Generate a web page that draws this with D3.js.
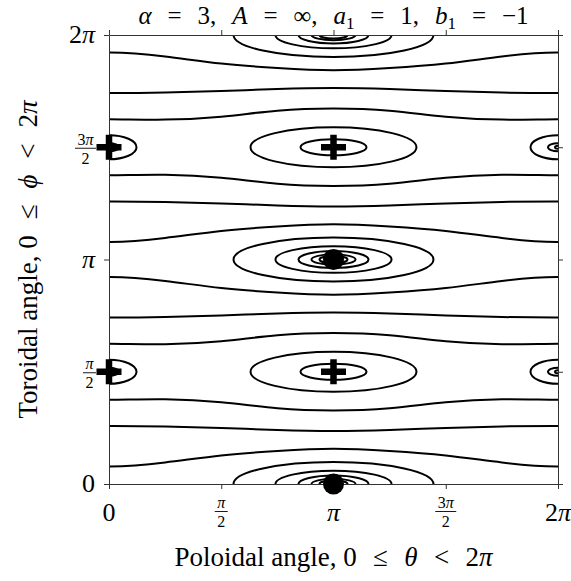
<!DOCTYPE html>
<html><head><meta charset="utf-8">
<script src="https://cdn.jsdelivr.net/npm/d3@7"></script>
<style>
body{margin:0;background:#fff}
text{font-family:"Liberation Serif","DejaVu Serif",serif;fill:#000}
</style>
</head><body>
<svg id="c" width="571" height="581"></svg>
<script>
const PI = Math.PI;

// ---------------- data (radians) ----------------
// theta positions at which each field line's phi value was read (periodic, one step past each edge)
const thetaSamples = [-PI/4, 0, PI/4, PI/2, 3*PI/4, PI, 5*PI/4, 3*PI/2, 7*PI/4, 2*PI, 9*PI/4];
const line1  = [0.301, 0.246, 0.301, 0.399, 0.462, 0.493, 0.462, 0.399, 0.301, 0.246, 0.301];
const line2  = [0.805, 0.812, 0.805, 0.784, 0.756, 0.742, 0.756, 0.784, 0.805, 0.812, 0.805];
const line3  = [1.185, 1.179, 1.185, 1.144, 1.060, 1.029, 1.060, 1.144, 1.185, 1.179, 1.185];
const line4  = [1.957, 1.963, 1.957, 1.998, 2.082, 2.113, 2.082, 1.998, 1.957, 1.963, 1.957];
const line5  = [2.337, 2.330, 2.337, 2.358, 2.386, 2.400, 2.386, 2.358, 2.337, 2.330, 2.337];
const line6  = [2.841, 2.896, 2.841, 2.743, 2.680, 2.649, 2.680, 2.743, 2.841, 2.896, 2.841];
const line7  = [3.443, 3.388, 3.443, 3.541, 3.604, 3.635, 3.604, 3.541, 3.443, 3.388, 3.443];
const line8  = [3.947, 3.954, 3.947, 3.926, 3.898, 3.884, 3.898, 3.926, 3.947, 3.954, 3.947];
const line9  = [4.327, 4.321, 4.327, 4.286, 4.202, 4.171, 4.202, 4.286, 4.327, 4.321, 4.327];
const line10 = [5.099, 5.105, 5.099, 5.140, 5.224, 5.255, 5.224, 5.140, 5.099, 5.105, 5.099];
const line11 = [5.478, 5.471, 5.478, 5.499, 5.527, 5.541, 5.527, 5.499, 5.478, 5.471, 5.478];
const line12 = [5.982, 6.037, 5.982, 5.884, 5.821, 5.790, 5.821, 5.884, 5.982, 6.037, 5.982];
const fieldLines = [line1, line2, line3, line4, line5, line6, line7, line8, line9, line10, line11, line12];

// island chains: centres [theta, phi] and closed-contour half-widths [dTheta, dPhi]
const bigIslandCenters  = [[PI, 0], [PI, PI], [PI, 2*PI]];
const bigIslandRadii    = [[1.399, 0.308], [0.812, 0.186], [0.490, 0.119], [0.308, 0.072], [0.196, 0.049]];
const midIslandCenters  = [[PI, PI/2], [PI, 3*PI/2]];
const midIslandRadii    = [[1.161, 0.280], [0.462, 0.112]];
const edgeIslandCenters = [[0, PI/2], [0, 3*PI/2], [2*PI, PI/2], [2*PI, 3*PI/2]];
const edgeIslandRadii   = [[0.385, 0.168], [0.140, 0.056], [0.042, 0.021]];

// fixed points
const dotPoints  = [[PI, 0], [PI, PI]];
const plusPoints = [[0, PI/2], [0, 3*PI/2], [PI, PI/2], [PI, 3*PI/2]];

// ticks
const tickValues = [0, PI/2, PI, 3*PI/2, 2*PI];
const tickLabels = ["0", "π/2", "π", "3π/2", "2π"];

// ---------------- chart ----------------
const svg = d3.select("#c");
const x = d3.scaleLinear().domain([0, 2*PI]).range([109, 558]);
const y = d3.scaleLinear().domain([0, 2*PI]).range([484, 35]);

svg.append("defs").append("clipPath").attr("id", "plotclip")
  .append("rect").attr("x", x(0)).attr("y", y(2*PI))
  .attr("width", x(2*PI) - x(0)).attr("height", y(0) - y(2*PI));

const gPlot = svg.append("g").attr("clip-path", "url(#plotclip)");

const lineGen = d3.line()
  .x((d, i) => x(thetaSamples[i]))
  .y(d => y(d))
  .curve(d3.curveNatural);

gPlot.selectAll("path.fl").data(fieldLines).join("path")
  .attr("class", "fl")
  .attr("d", lineGen)
  .attr("fill", "none").attr("stroke", "#000").attr("stroke-width", 2);

const ellipses = [];
bigIslandCenters.forEach(c => bigIslandRadii.forEach(r => ellipses.push({c, r})));
midIslandCenters.forEach(c => midIslandRadii.forEach(r => ellipses.push({c, r})));
edgeIslandCenters.forEach(c => edgeIslandRadii.forEach(r => ellipses.push({c, r})));

gPlot.selectAll("ellipse").data(ellipses).join("ellipse")
  .attr("cx", d => x(d.c[0])).attr("cy", d => y(d.c[1]))
  .attr("rx", d => x(d.r[0]) - x(0)).attr("ry", d => y(0) - y(d.r[1]))
  .attr("fill", "none").attr("stroke", "#000").attr("stroke-width", 2);

// axes (ticks outward on all four sides)
const axisColor = "#333";
function styleAxis(g) {
  g.selectAll(".domain").attr("stroke", axisColor).attr("stroke-width", 1);
  g.selectAll(".tick line").attr("stroke", axisColor).attr("stroke-width", 1);
  g.selectAll(".tick text").remove();
}
svg.append("g").attr("transform", `translate(0,${y(0)})`)
  .call(d3.axisBottom(x).tickValues(tickValues).tickSize(5).tickSizeOuter(0).tickFormat("")).call(styleAxis);
svg.append("g").attr("transform", `translate(0,${y(2*PI)})`)
  .call(d3.axisTop(x).tickValues(tickValues).tickSize(5).tickSizeOuter(0).tickFormat("")).call(styleAxis);
svg.append("g").attr("transform", `translate(${x(0)},0)`)
  .call(d3.axisLeft(y).tickValues(tickValues).tickSize(5).tickSizeOuter(0).tickFormat("")).call(styleAxis);
svg.append("g").attr("transform", `translate(${x(2*PI)},0)`)
  .call(d3.axisRight(y).tickValues(tickValues).tickSize(5).tickSizeOuter(0).tickFormat("")).call(styleAxis);

// math-ish text helper: digits upright, greek letters italic
function addMath(textSel, str) {
  for (const ch of str) {
    const t = textSel.append("tspan").text(ch);
    if (/[πθϕα]/.test(ch)) t.attr("font-style", "italic");
  }
}

// tick labels
function drawTickLabel(g, label, cx, cyBaseline, anchor) {
  const parts = label.split("/");
  if (parts.length === 1) {
    const t = g.append("text").attr("x", cx).attr("y", cyBaseline)
      .attr("text-anchor", anchor).attr("font-size", 26);
    addMath(t, parts[0]);
  } else {
    const w = parts[0].length > 1 ? 21 : 13;
    const barY = cyBaseline;
    let mid = cx;
    if (anchor === "end") mid = cx - w / 2;
    const n = g.append("text").attr("x", mid).attr("y", barY - 3.5)
      .attr("text-anchor", "middle").attr("font-size", 16);
    addMath(n, parts[0]);
    g.append("line").attr("x1", mid - w/2).attr("x2", mid + w/2)
      .attr("y1", barY).attr("y2", barY).attr("stroke", "#000").attr("stroke-width", 0.9);
    const dd = g.append("text").attr("x", mid).attr("y", barY + 15.5)
      .attr("text-anchor", "middle").attr("font-size", 16);
    addMath(dd, parts[1]);
  }
}
const gLab = svg.append("g");
tickValues.forEach((v, i) => {
  const lab = tickLabels[i];
  if (lab.includes("/")) drawTickLabel(gLab, lab, x(v), 511.5, "middle");
  else drawTickLabel(gLab, lab, x(v), 521, "middle");
});
tickValues.forEach((v, i) => {
  const lab = tickLabels[i];
  if (lab.includes("/")) drawTickLabel(gLab, lab, 96, y(v) + 1, "end");
  else drawTickLabel(gLab, lab, 95, y(v) + 8, "end");
});

// markers (not clipped)
svg.selectAll("circle.dot").data(dotPoints).join("circle")
  .attr("class", "dot").attr("cx", d => x(d[0])).attr("cy", d => y(d[1]))
  .attr("r", 10.5).attr("fill", "#000");
svg.selectAll("path.plus").data(plusPoints).join("path")
  .attr("class", "plus")
  .attr("transform", d => `translate(${x(d[0])},${y(d[1])})`)
  .attr("d", "M-12.5,0H12.5M0,-12.5V12.5")
  .attr("stroke", "#000").attr("stroke-width", 6.5).attr("fill", "none");

// text helpers
function seg(sel, s, it) { const t = sel.append("tspan").text(s); if (it) t.attr("font-style", "italic"); return t; }
// widen only the math spacing (tspans not marked as words) so the line spans the width seen in the picture
function fitWidth(sel, target) {
  const node = sel.node();
  const len = node.getComputedTextLength();
  let spaces = 0;
  sel.selectAll("tspan").each(function () {
    if (!this.classList.contains("words")) spaces += (this.textContent.match(/ /g) || []).length;
  });
  if (spaces > 0 && len < target) sel.attr("word-spacing", (target - len) / spaces);
}

// title
const title = svg.append("text").attr("x", x(PI)).attr("y", 24)
  .attr("text-anchor", "middle").attr("font-size", 25);
seg(title, "α", true); seg(title, " = 3, ");
seg(title, "A", true); seg(title, " = ∞, ");
seg(title, "a", true); title.append("tspan").text("1").attr("font-size", 17).attr("dy", 5);
title.append("tspan").text(" = 1, ").attr("dy", -5);
seg(title, "b", true); title.append("tspan").text("1").attr("font-size", 17).attr("dy", 5);
title.append("tspan").text(" = −1").attr("dy", -5);
fitWidth(title, 390);

// axis labels
const xl = svg.append("text").attr("x", x(PI)).attr("y", 566)
  .attr("text-anchor", "middle").attr("font-size", 27);
seg(xl, "Poloidal angle, ").attr("class", "words").attr("word-spacing", 0);
seg(xl, "0 ≤ "); seg(xl, "θ", true); seg(xl, " < 2"); seg(xl, "π", true);
fitWidth(xl, 318);

const yl = svg.append("text")
  .attr("transform", `translate(37,${y(PI)}) rotate(-90)`)
  .attr("text-anchor", "middle").attr("font-size", 27);
seg(yl, "Toroidal angle, ").attr("class", "words").attr("word-spacing", 0);
seg(yl, "0 ≤ "); seg(yl, "ϕ", true); seg(yl, " < 2"); seg(yl, "π", true);
fitWidth(yl, 318);
</script>
</body></html>
